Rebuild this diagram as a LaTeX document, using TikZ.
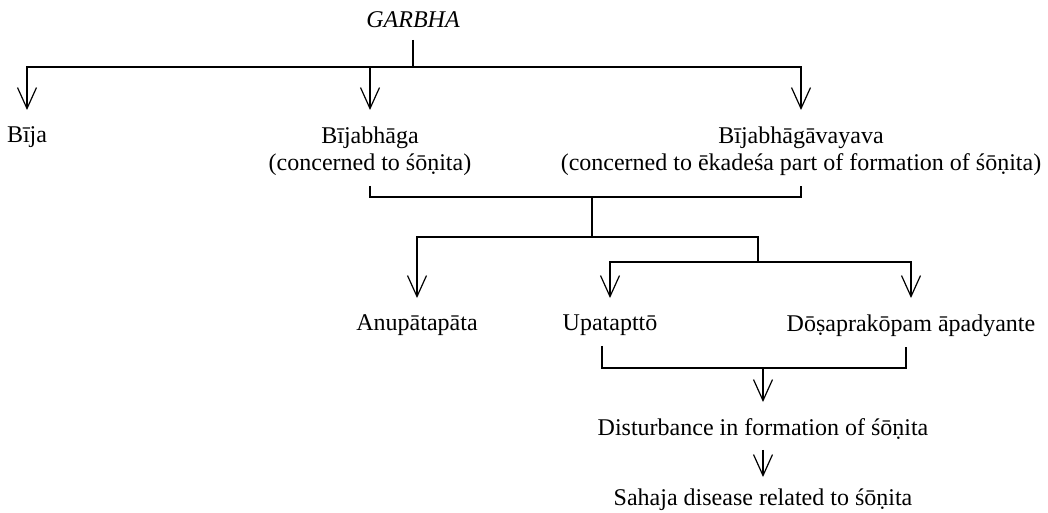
\documentclass[tikz,border=0pt]{standalone}
\usepackage{fontspec}
\setmainfont{Liberation Serif}
\usetikzlibrary{arrows.meta}

\tikzset{
  every node/.style={font=\fontsize{12}{13.5}\selectfont, inner xsep=0pt, inner ysep=5pt, outer sep=0pt},
  rootnode/.style={anchor=south, font=\fontsize{12}{13.5}\selectfont\itshape, inner ysep=6pt},
  leafnode/.style={anchor=north, align=center},
  link/.style={line width=0.6pt},
  feed/.style={link, shorten >=3.5pt, -{Straight Barb[length=10.5pt, width=9.5pt]}}
}

\begin{document}
\begin{tikzpicture}[x=0.5pt, y=-0.5pt]
  \useasboundingbox (0,0) rectangle (1048,513);
  \node[rootnode] (garbha) at (413,40) {GARBHA};
  \coordinate (top) at (413,67);
  \node[leafnode] (bija) at (27,117) {Bīja};
  \node[leafnode] (bhaga) at (370,117) {Bījabhāga\\(concerned to śōṇita)};
  \node[leafnode] (avayava) at (801,117) {Bījabhāgāvayava\\(concerned to ēkadeśa part of formation of śōṇita)};
  % first split
  \draw[link] (garbha.south) -- (top);
  \draw[feed] (top) -| (bija);
  \draw[feed] (top) -| (bhaga);
  \draw[feed] (top) -| (avayava);
  % joined again, then split into three
  \coordinate (join1) at (592,197);
  \coordinate (fork1) at (592,237);
  \coordinate (fork2) at (758,262);
  \node[leafnode] (anu) at (417,305) {Anupātapāta};
  \node[leafnode] (upa) at (610,305) {Upatapttō};
  \node[leafnode] (dosa) at (911,305) {Dōṣaprakōpam āpadyante};
  \draw[link] (bhaga.south) |- (join1) -| (avayava.south);
  \draw[link] (join1) -- (fork1);
  \draw[feed] (fork1) -| (anu);
  \draw[link] (fork1) -| (fork2);
  \draw[feed] (fork2) -| (upa);
  \draw[feed] (fork2) -| (dosa);
  % last two joined
  \coordinate (join2) at (763,368);
  \node[leafnode] (dist) at (763,409) {Disturbance in formation of śōṇita};
  \node[leafnode] (sahaja) at (763,479) {Sahaja disease related to śōṇita};
  \draw[link] ([xshift=-4pt]upa.south) |- (join2) -| ([xshift=-2.5pt]dosa.south);
  \draw[feed] (join2) -- (dist);
  \draw[feed, shorten >=1pt] (dist) -- (sahaja);
\end{tikzpicture}
\end{document}
